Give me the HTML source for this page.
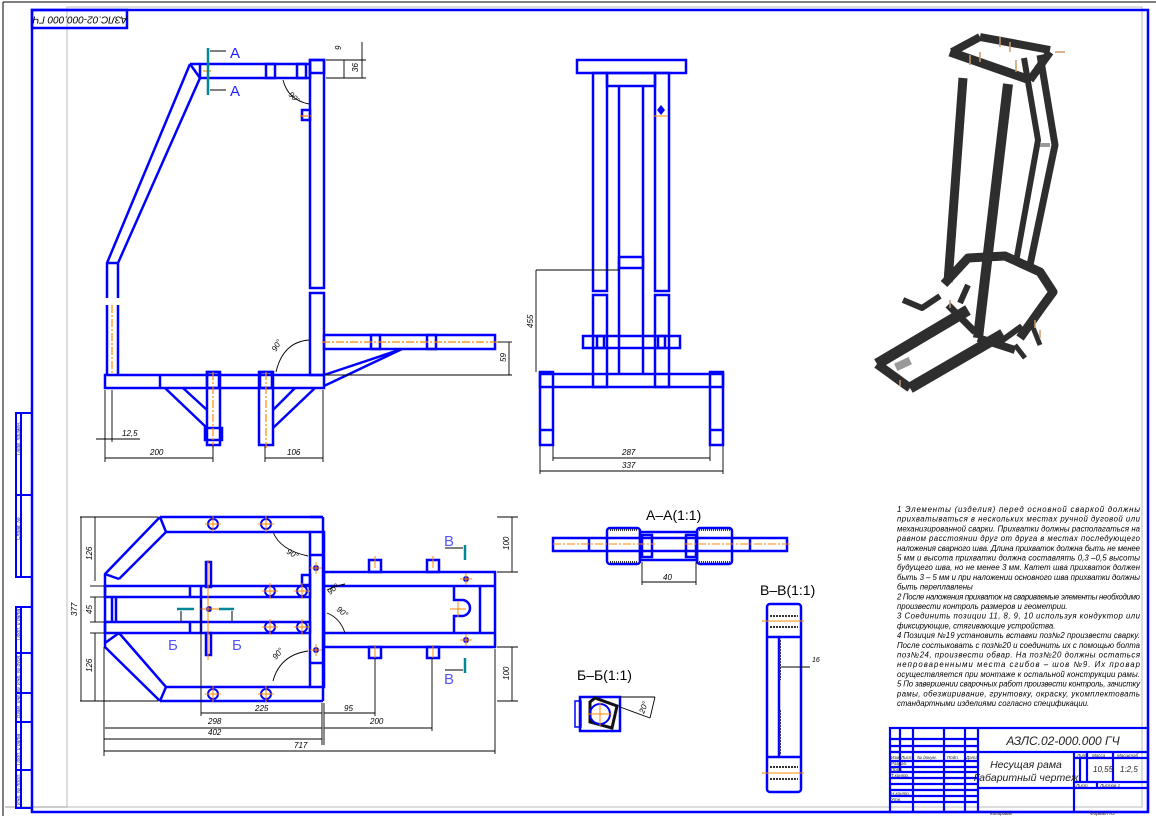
<!DOCTYPE html>
<html><head><meta charset="utf-8"><style>
html,body{margin:0;padding:0;background:#fff}
svg{display:block}
text{font-family:"Liberation Sans",sans-serif;font-style:italic}
</style></head><body>
<svg width="1156" height="816" viewBox="0 0 1156 816" xmlns="http://www.w3.org/2000/svg">
<!-- sheet borders -->
<line x1="3" y1="2" x2="1156" y2="2" stroke="#000" stroke-width="1"/>
<line x1="3" y1="2" x2="3" y2="816" stroke="#000" stroke-width="1"/>
<rect x="67" y="7" width="1075" height="800" fill="none" stroke="#bbb" stroke-width="1"/>
<line x1="5" y1="807" x2="67" y2="807" stroke="#999"/>
<rect x="32" y="10" width="1116" height="802" fill="none" stroke="#00f" stroke-width="2.5"/>
<rect x="32" y="10" width="95" height="18" fill="none" stroke="#00f" stroke-width="2.5"/>
<text transform="translate(80,19) rotate(180)" font-size="10" text-anchor="middle" dominant-baseline="middle">АЗЛС.02-000.000 ГЧ</text>
<!-- left strip -->
<g fill="none" stroke="#00f" stroke-width="2">
<rect x="16" y="413" width="16" height="164"/><line x1="21" y1="413" x2="21" y2="577"/><line x1="16" y1="495" x2="32" y2="495"/>
<rect x="16" y="607" width="16" height="201"/><line x1="21" y1="607" x2="21" y2="808"/>
<line x1="16" y1="653" x2="32" y2="653"/><line x1="16" y1="693" x2="32" y2="693"/><line x1="16" y1="722" x2="32" y2="722"/><line x1="16" y1="770" x2="32" y2="770"/>
</g>
<g font-size="5" fill="#333">
<text transform="translate(20,455) rotate(-90)">Перв. примен.</text>
<text transform="translate(20,540) rotate(-90)">Справ. №</text>
<text transform="translate(20,640) rotate(-90)">Подп. и дата</text>
<text transform="translate(20,685) rotate(-90)">Инв. № дубл.</text>
<text transform="translate(20,718) rotate(-90)">Взам. инв. №</text>
<text transform="translate(20,765) rotate(-90)">Подп. и дата</text>
<text transform="translate(20,805) rotate(-90)">Инв. № подл.</text>
</g>

<!-- FRONT VIEW -->
<g fill="none" stroke="#00f" stroke-width="2.5">
<rect x="200" y="64" width="110" height="14"/>
<line x1="190" y1="64" x2="200" y2="64"/><line x1="190" y1="64" x2="200" y2="78"/>
<polyline points="190,64 107,263 107,298"/><polyline points="200,78 118,263 118,298"/>
<line x1="107" y1="263" x2="118" y2="263"/>
<polyline points="107,305 107,375"/><polyline points="118,305 118,375"/>
<rect x="310" y="60" width="14" height="228"/><rect x="310" y="293" width="14" height="82"/>
<rect x="310" y="60" width="14" height="13"/>
<rect x="302" y="110" width="8" height="10"/>
<rect x="105" y="375" width="219" height="13"/><line x1="160" y1="375" x2="160" y2="388"/>
<rect x="324" y="335" width="171" height="14"/>
<polyline points="324,375 402,349"/><polyline points="324,386 402,349"/>
<line x1="165" y1="388" x2="207" y2="428"/><line x1="183" y1="388" x2="207" y2="410"/>
<line x1="315" y1="388" x2="273" y2="428"/><line x1="295" y1="388" x2="273" y2="410"/>
<rect x="207" y="372" width="13" height="73"/><rect x="259" y="372" width="14" height="73"/>
<rect x="205" y="428" width="17" height="12"/>
<rect x="266" y="64" width="9" height="14"/><rect x="297" y="64" width="9" height="14"/>
<rect x="207" y="372" width="12" height="16"/><rect x="260" y="372" width="12" height="16"/>
<rect x="371" y="335" width="9" height="14"/><rect x="427" y="335" width="9" height="14"/>
</g>
<g stroke="#f80" stroke-width="1.2" stroke-dasharray="8,2,2,2">
<line x1="112" y1="305" x2="112" y2="375"/><line x1="322" y1="342" x2="498" y2="342"/>
<line x1="213" y1="372" x2="213" y2="448"/><line x1="266" y1="372" x2="266" y2="448"/>
<line x1="203" y1="71" x2="213" y2="71"/><line x1="208" y1="66" x2="208" y2="76"/><line x1="300" y1="116" x2="312" y2="116"/>
</g>
<g stroke="#089" stroke-width="2.5"><line x1="208" y1="48" x2="208" y2="95"/></g>
<g stroke="#000" stroke-width="1"><line x1="210" y1="51" x2="226" y2="51"/><line x1="210" y1="90" x2="226" y2="90"/></g>
<g fill="#22f" font-size="15"><text x="230" y="58" style="font-style:normal">A</text><text x="230" y="96" style="font-style:normal">A</text></g>
<!-- front dims -->
<g stroke="#000" stroke-width="0.9" fill="none">
<line x1="105" y1="390" x2="105" y2="462"/><line x1="213" y1="445" x2="213" y2="462"/><line x1="105" y1="458" x2="213" y2="458"/>
<line x1="265" y1="445" x2="265" y2="462"/><line x1="323" y1="390" x2="323" y2="462"/><line x1="265" y1="458" x2="323" y2="458"/>
<line x1="96" y1="439" x2="140" y2="439"/><line x1="112" y1="390" x2="112" y2="442"/>
<line x1="326" y1="78" x2="366" y2="78"/><line x1="326" y1="60" x2="366" y2="60"/><line x1="362" y1="42" x2="362" y2="78"/><line x1="344" y1="60" x2="344" y2="78"/>
<line x1="498" y1="342" x2="512" y2="342"/><line x1="326" y1="375" x2="512" y2="375"/><line x1="509" y1="342" x2="509" y2="375"/>
<path d="M283,80 Q288,100 309,104"/><path d="M309,340 Q283,342 276,372"/>
</g>
<g font-size="8" fill="#000">
<text x="150" y="455">200</text><text x="287" y="455">106</text><text x="122" y="436">12,5</text>
<text transform="translate(506,362) rotate(-90)">59</text><text transform="translate(358,72) rotate(-90)">36</text><text transform="translate(341,50) rotate(-90)">9</text>
<text transform="translate(288,95) rotate(45)">90°</text><text transform="translate(276,352) rotate(-60)">90°</text>
</g>

<!-- SIDE VIEW -->
<g fill="none" stroke="#00f" stroke-width="2.5">
<rect x="577" y="60" width="109" height="13"/>
<rect x="593" y="73" width="14" height="218"/><rect x="593" y="295" width="14" height="92"/>
<rect x="655" y="73" width="14" height="218"/><rect x="655" y="295" width="14" height="92"/>
<rect x="607" y="73" width="48" height="13"/>
<line x1="619" y1="86" x2="619" y2="375"/><line x1="643" y1="86" x2="643" y2="375"/>
<rect x="619" y="257" width="24" height="11"/>
<rect x="583" y="336" width="97" height="12"/>
<rect x="540" y="374" width="183" height="13"/>
<rect x="540" y="372" width="13" height="73"/><rect x="710" y="372" width="13" height="73"/>
<line x1="540" y1="430" x2="553" y2="430"/><line x1="710" y1="430" x2="723" y2="430"/>
<rect x="597" y="336" width="7" height="12"/><rect x="658" y="336" width="7" height="12"/>
</g>
<path d="M657,110 l4,-5 l4,5 l-4,5z" fill="#00f"/><line x1="654" y1="116" x2="668" y2="116" stroke="#f80"/>
<g stroke="#000" stroke-width="0.9">
<line x1="536" y1="270" x2="620" y2="270"/><line x1="536" y1="270" x2="536" y2="372"/>
<line x1="553" y1="446" x2="553" y2="461"/><line x1="710" y1="446" x2="710" y2="461"/><line x1="553" y1="458" x2="710" y2="458"/>
<line x1="540" y1="446" x2="540" y2="474"/><line x1="723" y1="446" x2="723" y2="474"/><line x1="540" y1="471" x2="723" y2="471"/>
</g>
<g font-size="8"><text x="622" y="455">287</text><text x="622" y="468">337</text><text transform="translate(533,328) rotate(-90)">455</text></g>

<!-- PLAN VIEW -->
<g fill="none" stroke="#00f" stroke-width="2.5">
<line x1="160" y1="517" x2="323" y2="517"/><line x1="166" y1="532" x2="310" y2="532"/>
<line x1="160" y1="701" x2="323" y2="701"/><line x1="166" y1="687" x2="310" y2="687"/>
<line x1="160" y1="517" x2="166" y2="532"/><line x1="160" y1="701" x2="166" y2="687"/>
<polyline points="160,517 105,574 105,647 160,701"/>
<polyline points="166,532 119,579"/><polyline points="166,687 119,633"/>
<line x1="105" y1="574" x2="119" y2="579"/><line x1="105" y1="643" x2="119" y2="633"/>
<rect x="105" y="586" width="205" height="11"/><rect x="105" y="622" width="205" height="11"/>
<line x1="190" y1="586" x2="190" y2="597"/><line x1="201" y1="586" x2="201" y2="633"/><line x1="190" y1="622" x2="190" y2="633"/>
<line x1="112" y1="597" x2="112" y2="622"/><line x1="116" y1="597" x2="116" y2="622"/>
<rect x="310" y="532" width="14" height="155"/><line x1="310" y1="555" x2="324" y2="555"/><line x1="310" y1="663" x2="324" y2="663"/>
<line x1="310" y1="517" x2="323" y2="517"/><line x1="323" y1="517" x2="323" y2="701"/>
<rect x="324" y="572" width="171" height="75"/>
<line x1="324" y1="586" x2="495" y2="586"/><line x1="324" y1="633" x2="495" y2="633"/>
<line x1="480" y1="586" x2="480" y2="633"/>
<path d="M454,586 v14 h8 a8,8 0 0 1 0,16 h-8 v17"/>
<rect x="369" y="560" width="12" height="12"/><rect x="427" y="560" width="12" height="12"/>
<rect x="369" y="647" width="12" height="11"/><rect x="427" y="647" width="12" height="11"/>
<rect x="206" y="562" width="5" height="25"/><rect x="206" y="633" width="5" height="22"/>
<rect x="302" y="575" width="8" height="10"/>
</g>
<g fill="none" stroke="#00f" stroke-width="2">
<circle cx="213" cy="524" r="5"/><circle cx="266" cy="524" r="5"/><circle cx="213" cy="694" r="5"/><circle cx="266" cy="694" r="5"/>
<circle cx="270" cy="591" r="5"/><circle cx="302" cy="591" r="5"/><circle cx="270" cy="627" r="5"/><circle cx="302" cy="627" r="5"/>
</g>
<g fill="#00f"><circle cx="316" cy="568" r="3"/><circle cx="316" cy="650" r="3"/><circle cx="466" cy="579" r="3"/><circle cx="466" cy="640" r="3"/><circle cx="209" cy="609" r="3"/></g>
<g stroke="#f80" stroke-width="1">
<path d="M205,524h16M213,516v16M258,524h16M266,516v16M205,694h16M213,686v16M258,694h16M266,686v16M262,591h16M270,583v16M294,591h16M302,583v16M262,627h16M270,619v16M294,627h16M302,619v16M310,568h12M316,562v12M310,650h12M316,644v12M460,579h12M466,573v12M460,640h12M466,634v12M375,556v12M433,556v12M375,645v13M433,645v13M450,609h16M458,601v16M200,609h20M208,560v100"/>
</g>
<g stroke="#089" stroke-width="2.5"><line x1="177" y1="609" x2="194" y2="609"/><line x1="219" y1="609" x2="234" y2="609"/><line x1="465" y1="545" x2="465" y2="560"/><line x1="465" y1="658" x2="465" y2="673"/></g>
<g stroke="#000" stroke-width="1"><line x1="181" y1="611" x2="181" y2="622"/><line x1="232" y1="611" x2="232" y2="622"/><line x1="445" y1="548" x2="463" y2="548"/><line x1="445" y1="670" x2="463" y2="670"/></g>
<g fill="#55f" font-size="15"><text x="168" y="650" style="font-style:normal">Б</text><text x="232" y="650" style="font-style:normal">Б</text><text x="444" y="546" style="font-style:normal">В</text><text x="444" y="684" style="font-style:normal">В</text></g>
<!-- plan dims -->
<g stroke="#000" stroke-width="0.9">
<line x1="80" y1="517" x2="158" y2="517"/><line x1="80" y1="701" x2="158" y2="701"/><line x1="81" y1="517" x2="81" y2="701"/>
<line x1="95" y1="517" x2="95" y2="581"/><line x1="95" y1="597" x2="95" y2="622"/><line x1="95" y1="633" x2="95" y2="701"/>
<line x1="90" y1="586" x2="104" y2="586"/><line x1="90" y1="597" x2="104" y2="597"/><line x1="90" y1="622" x2="104" y2="622"/><line x1="90" y1="633" x2="104" y2="633"/>
<line x1="497" y1="517" x2="518" y2="517"/><line x1="497" y1="572" x2="518" y2="572"/><line x1="512" y1="517" x2="512" y2="572"/>
<line x1="497" y1="647" x2="518" y2="647"/><line x1="497" y1="701" x2="518" y2="701"/><line x1="512" y1="647" x2="512" y2="701"/>
<line x1="201" y1="600" x2="201" y2="716"/><line x1="322" y1="703" x2="322" y2="745"/><line x1="201" y1="713" x2="322" y2="713"/>
<line x1="324" y1="703" x2="324" y2="745"/><line x1="324" y1="713" x2="375" y2="713"/><line x1="375" y1="658" x2="375" y2="716"/>
<line x1="104" y1="647" x2="104" y2="756"/><line x1="105" y1="728" x2="322" y2="728"/><line x1="324" y1="728" x2="432" y2="728"/><line x1="432" y1="658" x2="432" y2="731"/>
<line x1="104" y1="739" x2="322" y2="739"/>
<line x1="495" y1="649" x2="495" y2="754"/><line x1="104" y1="751" x2="495" y2="751"/>
<path d="M273,532 Q280,550 308,556" fill="none"/><path d="M327,590 Q335,586 345,584" fill="none"/><path d="M327,613 Q340,618 345,633" fill="none"/><path d="M308,651 Q280,655 273,681" fill="none"/>
</g>
<g font-size="8">
<text transform="translate(92,560) rotate(-90)">126</text><text transform="translate(92,614) rotate(-90)">45</text><text transform="translate(92,672) rotate(-90)">126</text><text transform="translate(77,616) rotate(-90)">377</text>
<text transform="translate(509,550) rotate(-90)">100</text><text transform="translate(509,680) rotate(-90)">100</text>
<text x="255" y="711">225</text><text x="344" y="711">95</text><text x="208" y="724">298</text><text x="370" y="724">200</text><text x="208" y="735">402</text><text x="294" y="748">717</text>
<text transform="translate(286,553) rotate(30)">90°</text><text transform="translate(330,595) rotate(-40)">90°</text><text transform="translate(336,610) rotate(40)">90°</text><text transform="translate(276,660) rotate(-50)">90°</text>
</g>

<!-- A-A -->
<text x="646" y="520" font-size="14" style="font-style:normal">А–А(1:1)</text>
<g fill="none" stroke="#00f" stroke-width="2.5">
<rect x="553" y="538" width="234" height="13"/>
<line x1="589" y1="538" x2="589" y2="551"/><line x1="750" y1="538" x2="750" y2="551"/>
<rect x="607" y="528" width="33" height="36" rx="3"/><rect x="697" y="528" width="35" height="36" rx="3"/>
<rect x="640" y="532" width="57" height="28"/>
<rect x="642" y="535" width="10" height="22"/><rect x="686" y="535" width="10" height="22"/>
</g>
<g stroke="#333" stroke-width="2" stroke-dasharray="1,1"><line x1="610" y1="530" x2="638" y2="530"/><line x1="610" y1="562" x2="638" y2="562"/><line x1="699" y1="530" x2="730" y2="530"/><line x1="699" y1="562" x2="730" y2="562"/></g>
<line x1="553" y1="544" x2="655" y2="544" stroke="#f80" stroke-dasharray="8,2,2,2"/><line x1="684" y1="544" x2="790" y2="544" stroke="#f80" stroke-dasharray="8,2,2,2"/>
<g stroke="#000" stroke-width="0.9"><line x1="642" y1="562" x2="642" y2="585"/><line x1="696" y1="562" x2="696" y2="585"/><line x1="642" y1="582" x2="696" y2="582"/></g>
<text x="663" y="580" font-size="8">40</text>
<!-- Б-Б -->
<text x="577" y="680" font-size="14" style="font-style:normal">Б–Б(1:1)</text>
<rect x="575" y="701" width="6" height="26" fill="none" stroke="#00f" stroke-width="1.5"/>
<rect x="580" y="697" width="40" height="34" fill="none" stroke="#00f" stroke-width="2.5"/>
<path d="M590,702 l5,-4 l22,8 l-5,22 l-22,-6z" fill="none" stroke="#111" stroke-width="3"/>
<circle cx="600" cy="714" r="10" fill="none" stroke="#00f" stroke-width="2"/>
<path d="M588,714h24M600,702v24" stroke="#f80"/>
<g stroke="#000" stroke-width="0.9"><line x1="620" y1="707" x2="650" y2="718"/><line x1="620" y1="697" x2="655" y2="697"/><line x1="655" y1="697" x2="650" y2="718"/></g>
<text transform="translate(644,714) rotate(-70)" font-size="8">20°</text>
<!-- В-В -->
<text x="760" y="595" font-size="14" style="font-style:normal">В–В(1:1)</text>
<g fill="none" stroke="#00f" stroke-width="2.5">
<rect x="767" y="604" width="34" height="188" rx="3"/>
<line x1="767" y1="637" x2="801" y2="637"/><line x1="767" y1="757" x2="801" y2="757"/>
<line x1="779" y1="637" x2="779" y2="757"/>
</g>
<g stroke="#333" stroke-width="2" stroke-dasharray="2,1"><line x1="770" y1="616" x2="798" y2="616"/><line x1="770" y1="627" x2="798" y2="627"/><line x1="770" y1="767" x2="798" y2="767"/><line x1="770" y1="779" x2="798" y2="779"/><line x1="780" y1="640" x2="780" y2="680"/><line x1="780" y1="710" x2="780" y2="755"/></g>
<path d="M762,621h42M762,773h42" stroke="#f80"/>
<line x1="781" y1="667" x2="810" y2="667" stroke="#000"/><text x="812" y="662" font-size="7">16</text>

<!-- 3D model -->
<g stroke="#2e2e2e" stroke-linecap="butt" stroke-linejoin="round" fill="none">
<path d="M950,52 L1030,80" stroke-width="9"/><path d="M980,37 L1050,50" stroke-width="8"/><path d="M952,52 L980,37 M1030,80 L1050,52" stroke-width="8"/>
<path d="M963,78 L948,282" stroke-width="9"/><path d="M1008,84 L978,338" stroke-width="10"/>
<path d="M1040,55 L1055,145 L1030,265" stroke-width="7"/><path d="M1024,58 L1038,140 L1016,262" stroke-width="6"/>
<path d="M944,284 L968,258 L1005,256 L1040,272 L1053,292 L1042,307 L1020,338" stroke-width="9"/>
<path d="M877,364 L968,310" stroke-width="11"/><path d="M910,388 L1003,334" stroke-width="11"/>
<path d="M877,364 L910,388" stroke-width="9"/><path d="M948,305 L975,332" stroke-width="7"/>
<path d="M978,338 L1015,350" stroke-width="8"/><path d="M940,296 L922,308 L903,300" stroke-width="6"/>
<path d="M1000,342 L1022,326" stroke-width="6"/><path d="M960,303 L968,285" stroke-width="6"/>
<path d="M1030,320 L1040,345" stroke-width="5"/><path d="M1015,345 L1025,358" stroke-width="5"/>
</g>
<rect x="895" y="360" width="16" height="8" fill="#999" transform="rotate(-25 903 364)"/>
<rect x="1040" y="143" width="10" height="4" fill="#999"/>
<g stroke="#c96" stroke-width="1.5"><path d="M1000,37 v10M1010,42 v10M980,52 v10M1055,52 h10M1016,60 v12M970,55 v10M950,300 v8M1035,320 v8M1040,330 v8M900,380 v6"/></g>

<!-- notes -->
<g font-size="7.8" fill="#000">
<text x="897" y="512" textLength="243" lengthAdjust="spacing">1 Элементы (изделия) перед основной сваркой должны</text>
<text x="897" y="521.7" textLength="243" lengthAdjust="spacing">прихватываться в нескольких местах ручной дуговой или</text>
<text x="897" y="531.4" textLength="243" lengthAdjust="spacing">механизированной сварки. Прихватки должны располагаться на</text>
<text x="897" y="541.1" textLength="243" lengthAdjust="spacing">равном расстоянии друг от друга в местах последующего</text>
<text x="897" y="550.8" textLength="243" lengthAdjust="spacing">наложения сварного шва. Длина прихваток должна быть не менее</text>
<text x="897" y="560.5" textLength="243" lengthAdjust="spacing">5 мм и высота прихватки должна составлять 0,3 –0,5 высоты</text>
<text x="897" y="570.2" textLength="243" lengthAdjust="spacing">будущего шва, но не менее 3 мм. Катет шва прихваток должен</text>
<text x="897" y="579.9" textLength="243" lengthAdjust="spacing">быть 3 – 5 мм и при наложении основного шва прихватки должны</text>
<text x="897" y="589.6">быть переплавлены</text>
<text x="897" y="599.3" textLength="243" lengthAdjust="spacing">2 После наложения прихваток на свариваемые элементы необходимо</text>
<text x="897" y="609">произвести контроль размеров и геометрии.</text>
<text x="897" y="618.7" textLength="243" lengthAdjust="spacing">3 Соединить позиции 11, 8, 9, 10 используя кондуктор или</text>
<text x="897" y="628.4">фиксирующие, стягивающие устройства.</text>
<text x="897" y="638.1" textLength="243" lengthAdjust="spacing">4 Позиция №19 установить вставки поз№2 произвести сварку.</text>
<text x="897" y="647.8" textLength="243" lengthAdjust="spacing">После состыковать с поз№20 и соединить их с помощью болта</text>
<text x="897" y="657.5" textLength="243" lengthAdjust="spacing">поз№24, произвести обвар. На поз№20 должны остаться</text>
<text x="897" y="667.2" textLength="243" lengthAdjust="spacing">непроваренными места сгибов – шов №9. Их провар</text>
<text x="897" y="676.9" textLength="243" lengthAdjust="spacing">осуществляется при монтаже к остальной конструкции рамы.</text>
<text x="897" y="686.6" textLength="243" lengthAdjust="spacing">5 По завершении сварочных работ произвести контроль, зачистку</text>
<text x="897" y="696.3" textLength="243" lengthAdjust="spacing">рамы, обезжиривание, грунтовку, окраску, укомплектовать</text>
<text x="897" y="706">стандартными изделиями согласно спецификации.</text>
</g>

<!-- title block -->
<g fill="none" stroke="#00f" stroke-width="2.2">
<rect x="890" y="728" width="258" height="84"/>
<line x1="900" y1="728" x2="900" y2="772"/><line x1="913" y1="728" x2="913" y2="812"/><line x1="944" y1="728" x2="944" y2="812"/><line x1="965" y1="728" x2="965" y2="812"/><line x1="978" y1="728" x2="978" y2="812"/>
<line x1="890" y1="739" x2="978" y2="739"/><line x1="890" y1="746" x2="978" y2="746"/><line x1="890" y1="752" x2="1148" y2="752"/>
<line x1="890" y1="761" x2="978" y2="761"/><line x1="890" y1="767" x2="978" y2="767"/><line x1="890" y1="772" x2="978" y2="772"/>
<line x1="890" y1="778" x2="978" y2="778"/><line x1="890" y1="784" x2="978" y2="784"/><line x1="890" y1="790" x2="978" y2="790"/>
<line x1="890" y1="796" x2="978" y2="796"/><line x1="890" y1="802" x2="978" y2="802"/>
<line x1="978" y1="788" x2="1148" y2="788"/>
<line x1="1074" y1="752" x2="1074" y2="812"/><line x1="1074" y1="758" x2="1148" y2="758"/>
<line x1="1087" y1="752" x2="1087" y2="782"/><line x1="1080" y1="758" x2="1080" y2="782"/><line x1="1113" y1="752" x2="1113" y2="782"/>
<line x1="1074" y1="782" x2="1148" y2="782"/><line x1="1097" y1="782" x2="1097" y2="788"/>
</g>
<text x="1063" y="745" font-size="12" text-anchor="middle" fill="#222">АЗЛС.02-000.000 ГЧ</text>
<text x="1026" y="768" font-size="10.5" text-anchor="middle" fill="#222">Несущая рама</text>
<text x="1026" y="781" font-size="10.5" text-anchor="middle" fill="#222">Габаритный чертеж</text>
<g font-size="4.5" fill="#222">
<text x="891" y="759">Изм</text><text x="901" y="759">Лист</text><text x="917" y="759">№ докум.</text><text x="947" y="759">Подп.</text><text x="966" y="759">Дата</text>
<text x="891" y="765">Разраб.</text><text x="891" y="771">Пров.</text><text x="891" y="777">Т.контр.</text><text x="891" y="795">Н.контр.</text><text x="891" y="801">Утв.</text>
<text x="1077" y="757">Лит.</text><text x="1092" y="757">Масса</text><text x="1117" y="757">Масштаб</text>
<text x="1076" y="787">Лист</text><text x="1100" y="787">Листов 1</text>
<text x="990" y="815">Копировал</text><text x="1090" y="815">Формат А3</text>
</g>
<text x="1093" y="772" font-size="8" fill="#222">10,55</text><text x="1120" y="772" font-size="8" fill="#222">1:2,5</text>
</svg>
</body></html>
